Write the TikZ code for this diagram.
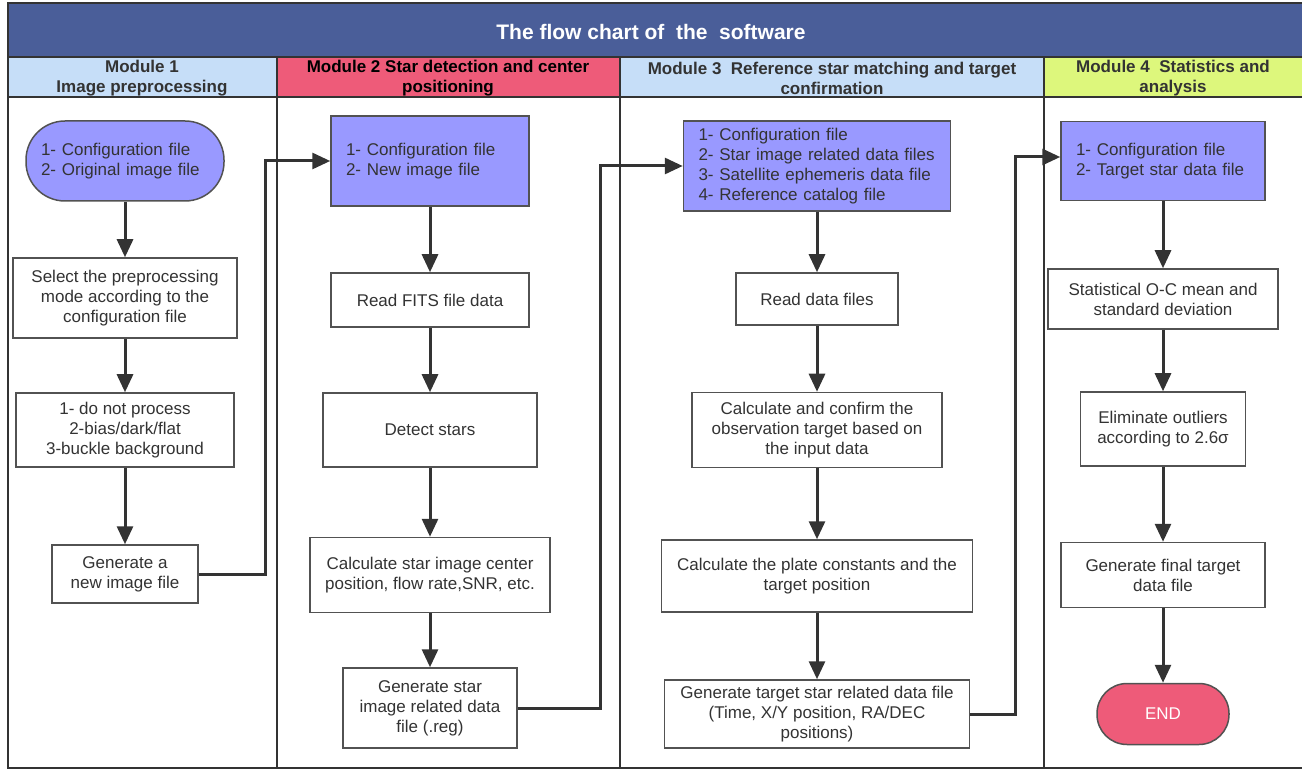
\documentclass[tikz,border=0pt]{standalone}
\usepackage{fontspec}
\setmainfont{Liberation Sans}
\usetikzlibrary{arrows.meta}
\usetikzlibrary{calc}
\definecolor{title blue}{RGB}{74,94,153}
\definecolor{head blue}{RGB}{198,222,248}
\definecolor{head red}{RGB}{238,91,121}
\definecolor{head green}{RGB}{221,247,124}
\definecolor{io purple}{RGB}{153,153,255}
\definecolor{ink}{RGB}{51,51,51}
\tikzstyle{proc}=[draw=ink!85,line width=0.75pt,fill=white,text=ink,align=center,inner sep=2pt]
\tikzstyle{io}=[draw=ink!85,line width=0.75pt,fill=io purple,text=ink,align=left,inner xsep=7.5pt,inner ysep=2pt]
\tikzstyle{flow}=[line width=1.5pt,draw=ink,-{Triangle[length=9pt,width=8pt]}]

\begin{document}
\begin{tikzpicture}[
  x=0.5pt,y=-0.5pt,
  font=\fontsize{8.5}{10}\selectfont,
  sz/.style 2 args={minimum width=#1*0.5pt,minimum height=#2*0.5pt},
  head/.style={font=\fontsize{8.5}{10}\selectfont\bfseries,text=ink,align=center},
  stadium/.style={rounded corners=#1},
  rule/.style={draw=ink,line width=1pt},
]
\useasboundingbox (0,0) rectangle (1302,770);

% title bar and module headers
\fill[title blue] (8,3) rectangle (1302,57);
\fill[head blue] (8,57) rectangle (277,97);
\fill[head red] (277,57) rectangle (620,97);
\fill[head blue] (620,57) rectangle (1044,97);
\fill[head green] (1044,57) rectangle (1302,97);
\draw[rule] (1303,3) -- (8,3) -- (8,768) -- (1303,768);
\draw[rule] (8,57) -- (1303,57);
\draw[rule] (8,97) -- (1303,97);
\foreach \x in {277,620,1044}
  \draw[rule] (\x,57) -- (\x,768);

\node[font=\fontsize{10.5}{12}\selectfont\bfseries,text=white] (title) at (651,32) {The flow chart of~ the~ software};
\node[head] (h1) at (142,78) {Module 1\\Image preprocessing};
\node[head,text=black] (h2) at (448,78) {Module 2 Star detection and center\\positioning};
\node[head] (h3) at (832,78) {Module 3~ Reference star matching and target\\confirmation};
\node[head] (h4) at (1173,78) {Module 4~ Statistics and\\analysis};

% module 1
\node[io,stadium=19.5pt,sz={198}{80},text width=84pt] (s1) at (125,161) {1- Configuration file\\2- Original image file};
\node[proc,sz={224}{80}] (p1a) at (125,298) {Select the preprocessing\\mode according to the\\configuration file};
\node[proc,sz={218}{74}] (p1b) at (125,430) {1- do not process\\2-bias/dark/flat\\3-buckle background};
\node[proc,sz={146}{58}] (p1c) at (125,574) {Generate a\\new image file};

% module 2
\node[io,sz={198}{90},text width=84pt] (s2) at (430,161) {1- Configuration file\\2- New image file};
\node[proc,sz={198}{54}] (p2a) at (430,300) {Read FITS file data};
\node[proc,sz={214}{74}] (p2b) at (430,430) {Detect stars};
\node[proc,sz={240}{75}] (p2c) at (430,575) {Calculate star image center\\position, flow rate,SNR, etc.};
\node[proc,sz={174}{80}] (p2d) at (430,708) {Generate star\\image related data\\file (.reg)};

% module 3
\node[io,sz={267}{90},text width=118.5pt] (s3) at (817,166) {1- Configuration file\\2- Star image related data files\\3- Satellite ephemeris data file\\4- Reference catalog file};
\node[proc,sz={162}{52}] (p3a) at (817,299) {Read data files};
\node[proc,sz={250}{75}] (p3b) at (817,430) {Calculate and confirm the\\observation target based on\\the input data};
\node[proc,sz={311}{72}] (p3c) at (817,576) {Calculate the plate constants and the\\target position};
\node[proc,sz={305}{68}] (p3d) at (817,714) {Generate target star related data file\\(Time, X/Y position, RA/DEC\\positions)};

% module 4
\node[io,sz={204}{79},text width=87pt] (s4) at (1163,161) {1- Configuration file\\2- Target star data file};
\node[proc,sz={230}{60}] (p4a) at (1163,299) {Statistical O-C mean and\\standard deviation};
\node[proc,sz={165}{74}] (p4b) at (1163,429) {Eliminate outliers\\according to 2.6σ};
\node[proc,sz={204}{65}] (p4c) at (1163,575) {Generate final target\\data file};
\node[proc,stadium=15pt,fill=head red,text=white,sz={132}{61}] (end) at (1163,714) {END};

% arrows inside the modules
\draw[flow] (s1) -- (p1a);
\draw[flow] (p1a) -- (p1b);
\draw[flow] (p1b) -- (p1c);
\draw[flow] (s2) -- (p2a);
\draw[flow] (p2a) -- (p2b);
\draw[flow] (p2b) -- (p2c);
\draw[flow] (p2c) -- (p2d);
\draw[flow] (s3) -- (p3a);
\draw[flow] (p3a) -- (p3b);
\draw[flow] (p3b) -- (p3c);
\draw[flow] (p3c) -- (p3d);
\draw[flow] (s4) -- (p4a);
\draw[flow] (p4a) -- (p4b);
\draw[flow] (p4b) -- (p4c);
\draw[flow] (p4c) -- (end);

% arrows between the modules
\coordinate (j1) at (265,0);
\coordinate (j2) at (600,0);
\coordinate (j3) at (1015,0);
\draw[flow] (p1c.east) -| (j1 |- s2.west) -- (s2.west);
\draw[flow] (p2d.east) -| (j2 |- s3.west) -- (s3.west);
\draw[flow] (p3d.east) -| ($(j3 |- s4.west)+(0,-4)$) -- ([yshift=2pt]s4.west);
\end{tikzpicture}
\end{document}
